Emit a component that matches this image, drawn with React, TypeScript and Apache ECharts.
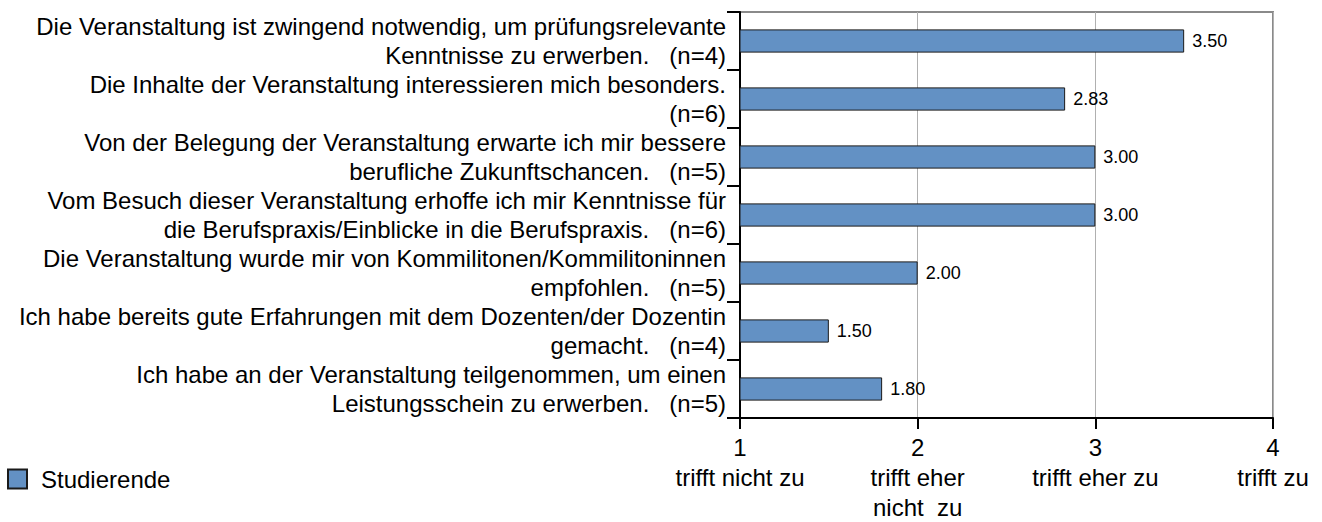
import React, { useEffect, useRef } from "react";
import * as echarts from "echarts";

const questionLine1 = [
  "Die Veranstaltung ist zwingend notwendig, um prüfungsrelevante",
  "Die Inhalte der Veranstaltung interessieren mich besonders.",
  "Von der Belegung der Veranstaltung erwarte ich mir bessere",
  "Vom Besuch dieser Veranstaltung erhoffe ich mir Kenntnisse für",
  "Die Veranstaltung wurde mir von Kommilitonen/Kommilitoninnen",
  "Ich habe bereits gute Erfahrungen mit dem Dozenten/der Dozentin",
  "Ich habe an der Veranstaltung teilgenommen, um einen",
];
const questionLine2 = [
  "Kenntnisse zu erwerben.",
  "",
  "berufliche Zukunftschancen.",
  "die Berufspraxis/Einblicke in die Berufspraxis.",
  "empfohlen.",
  "gemacht.",
  "Leistungsschein zu erwerben.",
];
const counts = [4, 6, 5, 6, 5, 4, 5];
const studierende = [3.5, 2.83, 3.0, 3.0, 2.0, 1.5, 1.8];
const xTickValues = [1, 2, 3, 4];
const xTickLabels = ["trifft nicht zu", "trifft eher\nnicht  zu", "trifft eher zu", "trifft zu"];
const seriesName = "Studierende";

const FONT = '"Liberation Sans", Arial, Helvetica, sans-serif';

export default function App() {
  const ref = useRef<HTMLDivElement>(null);
  useEffect(() => {
    if (!ref.current) return;
    const chart = echarts.init(ref.current, null, { renderer: "svg" });
    const categories = questionLine1.map(
      (l1, i) => l1 + "\n" + (questionLine2[i] ? questionLine2[i] + "   " : "") + `(n=${counts[i]})`
    );
    chart.setOption({
      animation: false,
      textStyle: { fontFamily: FONT },
      grid: {
        left: 740,
        right: 49,
        top: 12,
        bottom: 95,
        show: true,
        borderColor: "#8a8a8a",
        borderWidth: 2,
        backgroundColor: "transparent",
      },
      legend: {
        left: 7,
        top: 467,
        padding: 0,
        itemWidth: 19,
        itemHeight: 19,
        icon: "rect",
        data: [seriesName],
        textStyle: { fontSize: 24, color: "#000", fontFamily: FONT, padding: [0, 0, 0, 9] },
      },
      xAxis: {
        type: "value",
        min: 1,
        max: 4,
        interval: 1,
        axisLine: { show: true, lineStyle: { color: "#000", width: 2 } },
        axisTick: { show: true, length: 11, lineStyle: { color: "#000", width: 2 } },
        splitLine: { show: true, lineStyle: { color: "#b0b0b0", width: 1 } },
        axisLabel: {
          margin: 14,
          fontSize: 24,
          lineHeight: 30,
          color: "#000",
          fontFamily: FONT,
          formatter: (v: number) => {
            const idx = xTickValues.indexOf(v);
            return idx >= 0 ? `${v}\n${xTickLabels[idx]}` : "";
          },
        },
      },
      yAxis: {
        type: "category",
        inverse: true,
        data: categories,
        axisLine: { show: true, lineStyle: { color: "#000", width: 2 } },
        axisTick: { show: true, length: 13, lineStyle: { color: "#000", width: 2 } },
        axisLabel: {
          interval: 0,
          showMinLabel: true,
          showMaxLabel: true,
          margin: 14,
          fontSize: 24,
          lineHeight: 29,
          color: "#000",
          fontFamily: FONT,
          padding: [14, 0, 0, 0],
        },
      },
      series: [
        {
          name: seriesName,
          type: "bar",
          data: studierende,
          barWidth: "40%",
          itemStyle: { color: "#6391C4", borderColor: "#1a1a1a", borderWidth: 1 },
          label: {
            show: true,
            position: "right",
            distance: 8,
            fontSize: 18,
            color: "#000",
            fontFamily: FONT,
            formatter: (p: any) => Number(p.value).toFixed(2),
          },
        },
      ],
    });
    return () => chart.dispose();
  }, []);
  return (
    <div
      ref={ref}
      style={{ position: "absolute", left: 0, top: 0, width: 1322, height: 522 }}
    />
  );
}
